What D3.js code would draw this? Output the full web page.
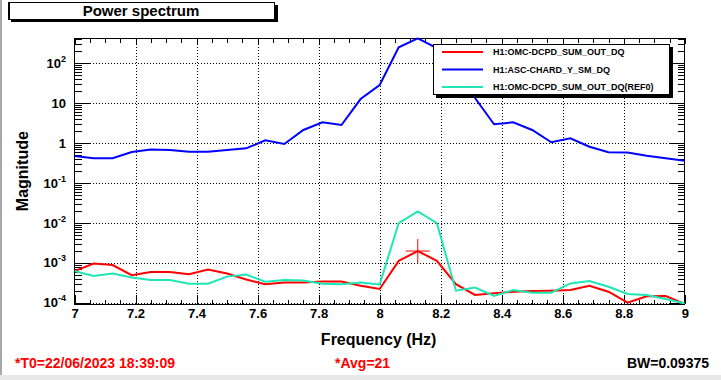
<!DOCTYPE html>
<html><head><meta charset="utf-8">
<script src="https://cdn.jsdelivr.net/npm/d3@7"></script>
<style>
body{margin:0;background:#fff}
svg{display:block}
text{font-family:"Liberation Sans",Arial,Helvetica,sans-serif;font-weight:bold}
</style>
</head><body>
<svg id="c" width="721" height="380"></svg>
<script>
// ---- data ----
const freq = [7, 7.0625, 7.125, 7.1875, 7.25, 7.3125, 7.375, 7.4375, 7.5, 7.5625, 7.625, 7.6875, 7.75, 7.8125, 7.875, 7.9375,
  8, 8.0625, 8.125, 8.1875, 8.25, 8.3125, 8.375, 8.4375, 8.5, 8.5625, 8.625, 8.6875, 8.75, 8.8125, 8.875, 8.9375, 9];
const redValues = [6.2e-4, 9.6e-4, 8.8e-4, 4.9e-4, 5.9e-4, 5.9e-4, 5.2e-4, 6.8e-4, 5.4e-4, 3.8e-4, 2.9e-4, 3.2e-4, 3.2e-4, 3.4e-4, 3.4e-4, 2.66e-4,
  2.2e-4, 1.12e-3, 1.97e-3, 1.12e-3, 2.9e-4, 1.56e-4, 1.72e-4, 1.88e-4, 1.95e-4, 1.99e-4, 2.07e-4, 2.66e-4, 1.88e-4, 1.0e-4, 1.45e-4, 1.47e-4, 0.93e-4];
const blueValues = [0.475, 0.42, 0.42, 0.60, 0.69, 0.67, 0.61, 0.61, 0.67, 0.74, 1.17, 0.95, 2.13, 3.32, 2.84, 12.7,
  28.6, 252, 425, 242, 68, 13.5, 2.96, 3.32, 2.13, 1.05, 1.32, 0.81, 0.59, 0.58, 0.48, 0.42, 0.36];
const cyanValues = [6.2e-4, 4.7e-4, 5.4e-4, 4.3e-4, 3.7e-4, 3.7e-4, 3.0e-4, 3.0e-4, 4.5e-4, 5.1e-4, 3.35e-4, 3.7e-4, 3.6e-4, 3.0e-4, 2.9e-4, 3.2e-4,
  2.85e-4, 9.9e-3, 1.93e-2, 9.9e-3, 2.0e-4, 2.4e-4, 1.47e-4, 2.07e-4, 1.78e-4, 1.78e-4, 3.04e-4, 3.5e-4, 2.5e-4, 1.65e-4, 1.56e-4, 1.24e-4, 0.95e-4];
const seriesNames = ["H1:OMC-DCPD_SUM_OUT_DQ", "H1:ASC-CHARD_Y_SM_DQ", "H1:OMC-DCPD_SUM_OUT_DQ(REF0)"];
const seriesColors = ["#ff0000", "#0000ff", "#1ee6b4"];
const xTicks = [7, 7.2, 7.4, 7.6, 7.8, 8, 8.2, 8.4, 8.6, 8.8, 9];
const xTickLabels = ["7", "7.2", "7.4", "7.6", "7.8", "8", "8.2", "8.4", "8.6", "8.8", "9"];
const yTicks = [1e-4, 1e-3, 1e-2, 1e-1, 1, 10, 100];
const yTickBase = ["10", "10", "10", "10", "1", "10", "10"];
const yTickSup = ["-4", "-3", "-2", "-1", "", "", "2"];
const titleText = "Power spectrum";
const xTitle = "Frequency (Hz)";
const yTitle = "Magnitude";
const footLeft = "*T0=22/06/2023 18:39:09";
const footMid = "*Avg=21";
const footRight = "BW=0.09375";
const markerIndex = 18;

// ---- layout ----
const svg = d3.select("#c");
const L = 74.5, R = 684.8, T = 38.3, B = 304;
const x = d3.scaleLinear().domain([7, 9]).range([L, R]);
const y = d3.scaleLog().domain([Math.pow(10, -4.033), Math.pow(10, 2.627)]).range([B, T]);

svg.append("rect").attr("width", 721).attr("height", 380).attr("fill", "#fff");
svg.append("rect").attr("x", 0).attr("y", 375).attr("width", 721).attr("height", 5).attr("fill", "#e8e8e8");
svg.append("rect").attr("x", 0).attr("y", 0).attr("width", 2).attr("height", 375).attr("fill", "#a8a8a8");

// grid
const grid = svg.append("g").attr("stroke", "#000").attr("stroke-width", 1).attr("stroke-dasharray", "1,2").attr("shape-rendering", "crispEdges");
grid.selectAll("line.gx").data(xTicks.filter(d => d > 7 && d < 9)).join("line")
  .attr("x1", d => Math.round(x(d)) + 0.5).attr("x2", d => Math.round(x(d)) + 0.5).attr("y1", T).attr("y2", B);
grid.selectAll("line.gy").data(yTicks).join("line")
  .attr("y1", d => Math.round(y(d)) + 0.5).attr("y2", d => Math.round(y(d)) + 0.5).attr("x1", L).attr("x2", R);

// minor tick positions
const xMinor = d3.range(7, 9.0001, 0.05).filter(v => Math.abs(v * 5 - Math.round(v * 5)) > 1e-6);
const yMinor = [];
yTicks.forEach(dec => { for (let m = 2; m <= 9; m++) { const v = dec * m; if (v < y.domain()[1]) yMinor.push(v); } });

function styleAxis(g) { g.select(".domain").remove(); g.attr("shape-rendering", "crispEdges"); }

// bottom axis
const xAxisG = svg.append("g").attr("transform", `translate(0,${B})`)
  .call(d3.axisBottom(x).tickValues(xTicks).tickFormat((d, i) => xTickLabels[i]).tickSizeInner(-9).tickSizeOuter(0).tickPadding(5))
  .call(styleAxis);
xAxisG.selectAll("text").attr("font-size", 13).attr("fill", "#000");
svg.append("g").attr("transform", `translate(0,${B})`)
  .call(d3.axisBottom(x).tickValues(xMinor).tickFormat("").tickSizeInner(-4.5).tickSizeOuter(0)).call(styleAxis);
// top axis
svg.append("g").attr("transform", `translate(0,${T})`)
  .call(d3.axisTop(x).tickValues(xTicks).tickFormat("").tickSizeInner(-6).tickSizeOuter(0)).call(styleAxis);
svg.append("g").attr("transform", `translate(0,${T})`)
  .call(d3.axisTop(x).tickValues(xMinor).tickFormat("").tickSizeInner(-5).tickSizeOuter(0)).call(styleAxis);

// left axis
const yAxisG = svg.append("g").attr("transform", `translate(${L},0)`)
  .call(d3.axisLeft(y).tickValues(yTicks).tickFormat("").tickSizeInner(-15).tickSizeOuter(0).tickPadding(8.5))
  .call(styleAxis);
yAxisG.selectAll(".tick text").each(function (d, i) {
  const t = d3.select(this).attr("font-size", 13).attr("fill", "#000");
  t.text(null);
  t.append("tspan").text(yTickBase[i]);
  if (yTickSup[i]) t.append("tspan").attr("dy", -6).attr("font-size", 9).text(yTickSup[i]);
});
svg.append("g").attr("transform", `translate(${L},0)`)
  .call(d3.axisLeft(y).tickValues(yMinor).tickFormat("").tickSizeInner(-7).tickSizeOuter(0)).call(styleAxis);
// right axis
svg.append("g").attr("transform", `translate(${R},0)`)
  .call(d3.axisRight(y).tickValues(yTicks).tickFormat("").tickSizeInner(-15).tickSizeOuter(0)).call(styleAxis);
svg.append("g").attr("transform", `translate(${R},0)`)
  .call(d3.axisRight(y).tickValues(yMinor).tickFormat("").tickSizeInner(-7).tickSizeOuter(0)).call(styleAxis);

// frame
svg.append("rect").attr("x", L).attr("y", T).attr("width", R - L).attr("height", B - T)
  .attr("fill", "none").attr("stroke", "#000").attr("stroke-width", 1).attr("shape-rendering", "crispEdges");

// data
svg.append("clipPath").attr("id", "clip").append("rect").attr("x", L).attr("y", T - 1).attr("width", R - L).attr("height", B - T + 1);
const line = d3.line().x((d, i) => x(freq[i])).y(d => y(d));
const plot = svg.append("g").attr("clip-path", "url(#clip)");
[redValues, blueValues, cyanValues].forEach((vals, k) => {
  plot.append("path").datum(vals).attr("d", line).attr("fill", "none")
    .attr("stroke", seriesColors[k]).attr("stroke-width", 2).attr("stroke-linejoin", "miter");
});
// peak marker on red trace
const mx = x(freq[markerIndex]), my = y(redValues[markerIndex]);
svg.append("path").attr("d", `M${mx - 12},${my}H${mx + 12}M${mx},${my - 12}V${my + 12}`)
  .attr("stroke", seriesColors[0]).attr("stroke-width", 1).attr("fill", "none");

// legend
const lg = svg.append("g");
lg.append("rect").attr("x", 436).attr("y", 47).attr("width", 237).attr("height", 51).attr("fill", "#000");
lg.append("rect").attr("x", 433.5).attr("y", 44.5).attr("width", 236).attr("height", 50).attr("fill", "#fff").attr("stroke", "#000").attr("stroke-width", 1);
const rows = [52, 69.5, 87];
seriesNames.forEach((n, k) => {
  lg.append("line").attr("x1", 442).attr("x2", 483).attr("y1", rows[k]).attr("y2", rows[k])
    .attr("stroke", seriesColors[k]).attr("stroke-width", 2);
  lg.append("text").attr("x", 493).attr("y", rows[k] + 3.4).attr("font-size", 9).attr("fill", "#000").text(n);
});

// title box
svg.append("rect").attr("x", 11).attr("y", 5).attr("width", 267).attr("height", 17).attr("fill", "#000");
svg.append("rect").attr("x", 8.5).attr("y", 2.5).attr("width", 266).attr("height", 17).attr("fill", "#fff").attr("stroke", "#000").attr("stroke-width", 1);
svg.append("rect").attr("x", 8).attr("y", 2).attr("width", 2).attr("height", 18).attr("fill", "#000");
svg.append("text").attr("x", 141).attr("y", 16).attr("text-anchor", "middle").attr("font-size", 15).text(titleText);

// axis titles
svg.append("text").attr("x", (L + R) / 2 - 1).attr("y", 345).attr("text-anchor", "middle").attr("font-size", 16).text(xTitle);
svg.append("text").attr("transform", `translate(28,${(T + B) / 2}) rotate(-90)`).attr("text-anchor", "middle").attr("font-size", 16).text(yTitle);

// footer
svg.append("text").attr("x", 15).attr("y", 368).attr("font-size", 14).attr("fill", "#ff0000").text(footLeft);
svg.append("text").attr("x", 335).attr("y", 368).attr("font-size", 14).attr("fill", "#ff0000").text(footMid);
svg.append("text").attr("x", 709).attr("y", 368).attr("text-anchor", "end").attr("font-size", 14).attr("fill", "#000").text(footRight);
</script>
</body></html>
